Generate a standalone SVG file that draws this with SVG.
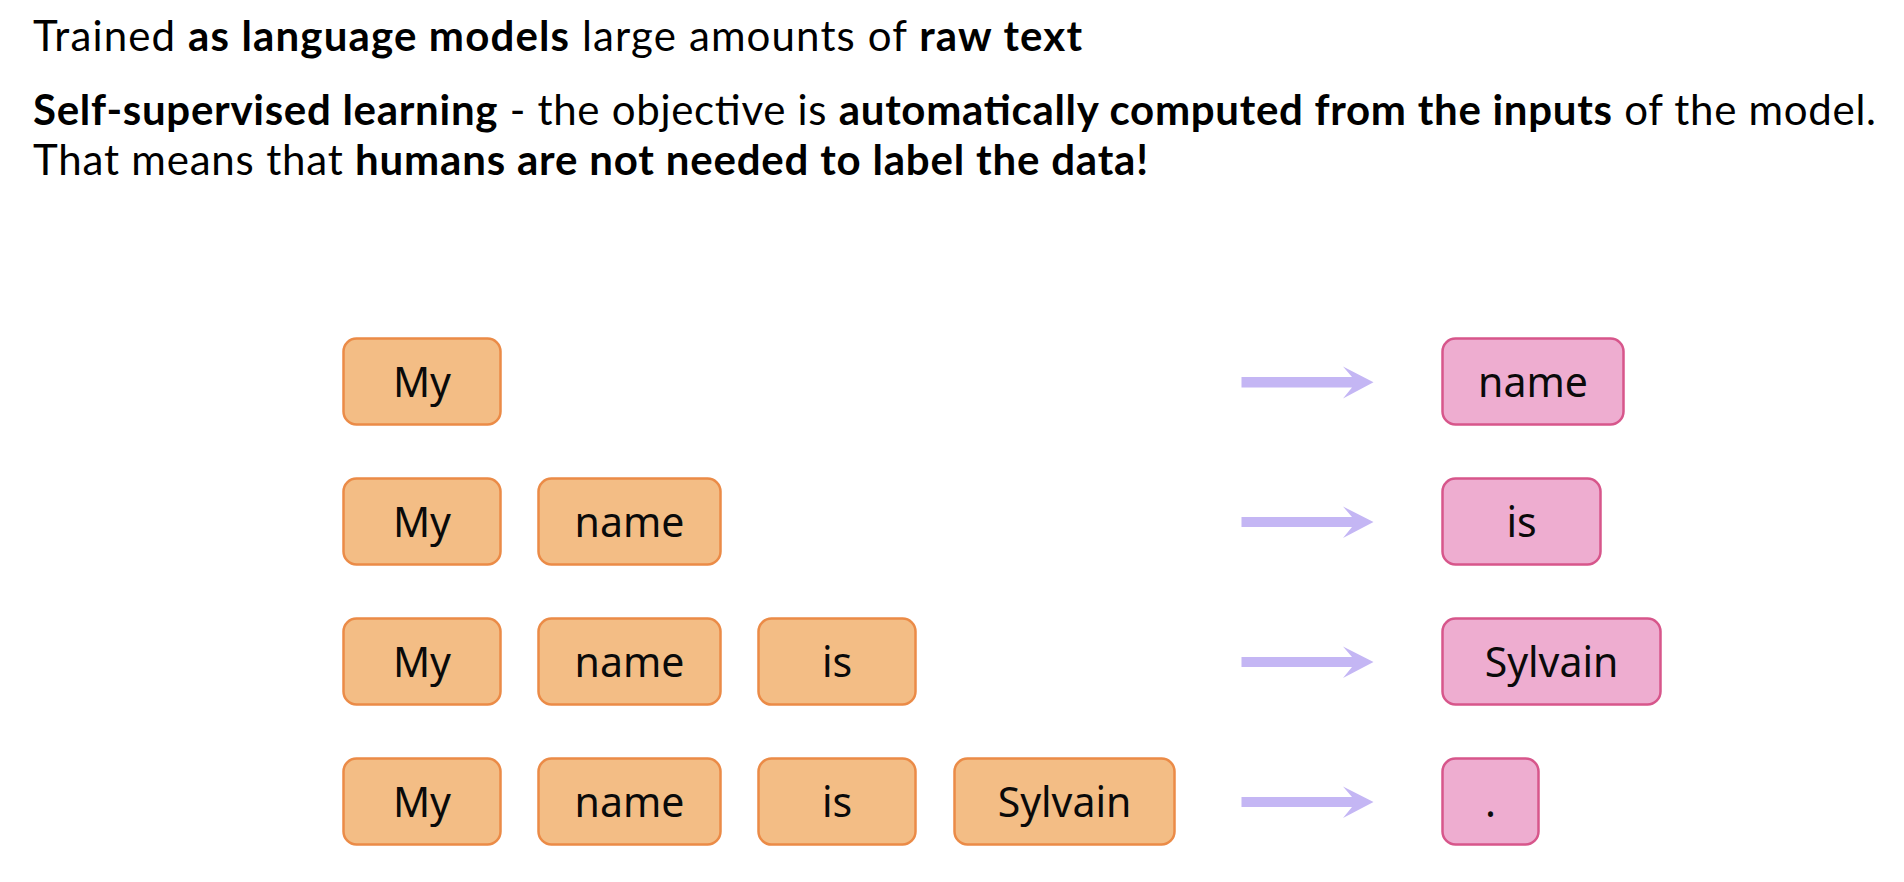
<svg xmlns="http://www.w3.org/2000/svg" width="1904" height="882" viewBox="0 0 1904 882">
<style>
.hdr{font-family:Lato,"Open Sans",sans-serif;font-size:42px;fill:#000;}
.b{font-weight:700;}
.in rect{fill:#F3BD85;stroke:#EB8B47;stroke-width:2.5;}
.out rect{fill:#EEADD0;stroke:#D7568B;stroke-width:2.5;}
.lbl{font-family:"Noto Sans","Open Sans",sans-serif;font-size:41px;fill:#0a0a0a;text-anchor:middle;}
.arr{fill:#C4B6F4;}
</style>
<rect width="1904" height="882" fill="#fff"/>
<g id="header">
<text class="hdr" x="33" y="51" textLength="1049" lengthAdjust="spacing">Trained <tspan class="b">as language models</tspan> large amounts of <tspan class="b">raw text</tspan></text>
<text class="hdr" x="33" y="125" textLength="1843" lengthAdjust="spacing"><tspan class="b">Self-supervised learning</tspan> - the objective is <tspan class="b">automatically computed from the inputs</tspan> of the model.</text>
<text class="hdr" x="33" y="175" textLength="1115" lengthAdjust="spacing">That means that <tspan class="b">humans are not needed to label the data!</tspan></text>
</g>
<g id="r1-my" class="in"><rect x="343.5" y="338.5" width="157" height="86" rx="13"/><text class="lbl" x="422" y="397">My</text></g>
<g id="r2-my" class="in"><rect x="343.5" y="478.5" width="157" height="86" rx="13"/><text class="lbl" x="422" y="537">My</text></g>
<g id="r2-name" class="in"><rect x="538.5" y="478.5" width="182" height="86" rx="13"/><text class="lbl" x="629.5" y="537">name</text></g>
<g id="r3-my" class="in"><rect x="343.5" y="618.5" width="157" height="86" rx="13"/><text class="lbl" x="422" y="677">My</text></g>
<g id="r3-name" class="in"><rect x="538.5" y="618.5" width="182" height="86" rx="13"/><text class="lbl" x="629.5" y="677">name</text></g>
<g id="r3-is" class="in"><rect x="758.5" y="618.5" width="157" height="86" rx="13"/><text class="lbl" x="837" y="677">is</text></g>
<g id="r4-my" class="in"><rect x="343.5" y="758.5" width="157" height="86" rx="13"/><text class="lbl" x="422" y="817">My</text></g>
<g id="r4-name" class="in"><rect x="538.5" y="758.5" width="182" height="86" rx="13"/><text class="lbl" x="629.5" y="817">name</text></g>
<g id="r4-is" class="in"><rect x="758.5" y="758.5" width="157" height="86" rx="13"/><text class="lbl" x="837" y="817">is</text></g>
<g id="r4-sylvain" class="in"><rect x="954.5" y="758.5" width="220" height="86" rx="13"/><text class="lbl" x="1064.5" y="817">Sylvain</text></g>
<g id="o1-name" class="out"><rect x="1442.5" y="338.5" width="181" height="86" rx="13"/><text class="lbl" x="1533" y="397">name</text></g>
<g id="o2-is" class="out"><rect x="1442.5" y="478.5" width="158" height="86" rx="13"/><text class="lbl" x="1521.5" y="537">is</text></g>
<g id="o3-sylvain" class="out"><rect x="1442.5" y="618.5" width="218" height="86" rx="13"/><text class="lbl" x="1551.5" y="677">Sylvain</text></g>
<g id="o4-dot" class="out"><rect x="1442.5" y="758.5" width="96" height="86" rx="13"/><text class="lbl" x="1490.5" y="817">.</text></g>
<g id="connectors" class="arr">
<path d="M1241.5 377V387.5H1352L1343 398.5L1373.5 382.3L1343 366.5L1352 377Z"/>
<path d="M1241.5 517V527H1352L1343 538L1373.5 522L1343 506.5L1352 517Z"/>
<path d="M1241.5 657V667H1352L1343 678L1373.5 662L1343 646.5L1352 657Z"/>
<path d="M1241.5 797V807H1352L1343 818L1373.5 802L1343 786.5L1352 797Z"/>
</g>
</svg>
